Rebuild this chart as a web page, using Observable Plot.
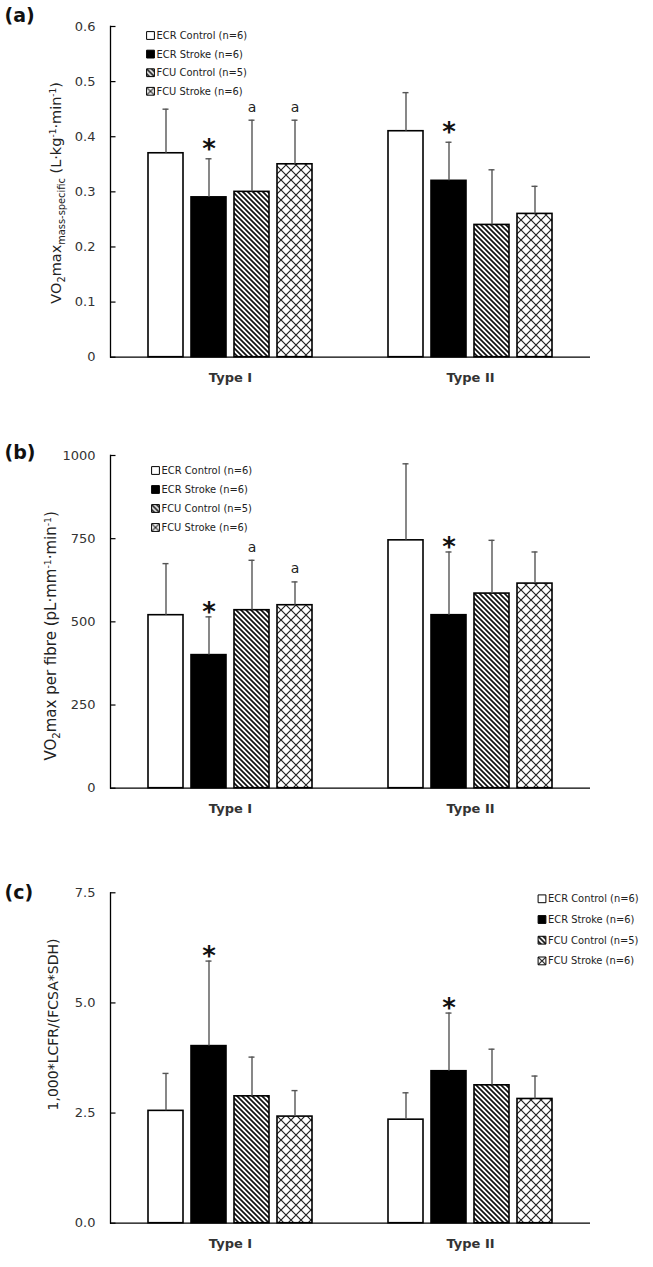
<!DOCTYPE html>
<html>
<head>
<meta charset="utf-8">
<script src="https://cdn.jsdelivr.net/npm/d3@7"></script>
<script src="https://cdn.jsdelivr.net/npm/@observablehq/plot@0.6"></script>
<style>
  body { margin: 0; background: #fff; }
  #charts svg { display: block; }
</style>
</head>
<body>
<svg width="0" height="0" style="position:absolute">
  <defs>
    <pattern id="hatch" width="5" height="5" patternUnits="userSpaceOnUse">
      <rect width="5" height="5" fill="white"/>
      <path d="M-1,-1L6,6M-1,4L1,6M4,-1L6,1" stroke="#111" stroke-width="1.7"/>
    </pattern>
    <pattern id="cross" width="10" height="10" patternUnits="userSpaceOnUse">
      <rect width="10" height="10" fill="white"/>
      <path d="M-1,-1L11,11M11,-1L-1,11" stroke="#222" stroke-width="1.2"/>
    </pattern>
  </defs>
</svg>
<div id="charts"></div>
<script>
// ---------- shared categories ----------
const types = ["Type I", "Type II"];
const groups = ["ECR Control", "ECR Stroke", "FCU Control", "FCU Stroke"];
const legendLabels = ["ECR Control (n=6)", "ECR Stroke (n=6)", "FCU Control (n=5)", "FCU Stroke (n=6)"];
const groupFills = ["white", "black", "url(#hatch)", "url(#cross)"];

// ---------- (a) VO2max mass-specific ----------
const massMeanTypeI = [0.37, 0.29, 0.30, 0.35];
const massMeanTypeII = [0.41, 0.32, 0.24, 0.26];
const massSdTypeI = [0.08, 0.07, 0.13, 0.08];
const massSdTypeII = [0.07, 0.07, 0.10, 0.05];
const massTicks = [0, 0.1, 0.2, 0.3, 0.4, 0.5, 0.6];
const massNotes = [["Type I", "ECR Stroke", "*"], ["Type II", "ECR Stroke", "*"], ["Type I", "FCU Control", "a"], ["Type I", "FCU Stroke", "a"]];

// ---------- (b) VO2max per fibre ----------
const fibreMeanTypeI = [520, 400, 535, 550];
const fibreMeanTypeII = [745, 520, 585, 615];
const fibreSdTypeI = [155, 115, 150, 70];
const fibreSdTypeII = [230, 190, 160, 95];
const fibreTicks = [0, 250, 500, 750, 1000];
const fibreNotes = [["Type I", "ECR Stroke", "*"], ["Type II", "ECR Stroke", "*"], ["Type I", "FCU Control", "a"], ["Type I", "FCU Stroke", "a"]];

// ---------- (c) 1,000*LCFR/(FCSA*SDH) ----------
const ratioMeanTypeI = [2.55, 4.02, 2.88, 2.42];
const ratioMeanTypeII = [2.35, 3.45, 3.13, 2.82];
const ratioSdTypeI = [0.85, 1.93, 0.89, 0.59];
const ratioSdTypeII = [0.61, 1.32, 0.82, 0.52];
const ratioTicks = [0, 2.5, 5, 7.5];
const ratioNotes = [["Type I", "ECR Stroke", "*"], ["Type II", "ECR Stroke", "*"]];

const W = 653, ML = 109, MR = 63;
const facetW = (W - ML - MR) / 2;

function richText(svg, marker, parts, base) {
  svg.querySelectorAll("text").forEach(t => {
    if (t.textContent !== marker) return;
    while (t.firstChild) t.removeChild(t.firstChild);
    let shift = 0;
    for (const [s, kind] of parts) {
      const ts = document.createElementNS("http://www.w3.org/2000/svg", "tspan");
      const target = kind === "sub" ? 4 : kind === "sup" ? -5 : 0;
      const size = kind === "sub" ? base * 0.68 : kind === "sup" ? base * 0.62 : base;
      ts.setAttribute("dy", target - shift);
      shift = target;
      ts.setAttribute("font-size", size);
      ts.textContent = s;
      t.appendChild(ts);
    }
  });
}

function makePanel(cfg) {
  const rows = types.flatMap((t, ti) => groups.map((g, gi) => ({
    type: t, group: g, fill: groupFills[gi],
    mean: cfg.means[ti][gi], sd: cfg.sds[ti][gi]
  })));
  const find = (t, g) => rows.find(r => r.type === t && r.group === g);
  const notes = cfg.notes.map(([t, g, s]) => ({type: t, group: g, text: s, top: find(t, g).mean + find(t, g).sd}));
  const lg = cfg.legend;
  const marker = cfg.labelParts.map(p => p[0]).join("");
  const svg = Plot.plot({
    width: W,
    height: cfg.height,
    marginTop: cfg.marginTop,
    marginBottom: cfg.marginBottom,
    marginLeft: ML,
    marginRight: MR,
    style: {fontFamily: "DejaVu Sans", background: "white", overflow: "visible"},
    fx: {domain: types, padding: 0},
    x: {domain: groups, paddingInner: 0.19, paddingOuter: 0.885, axis: null},
    y: {domain: cfg.domain, axis: null},
    color: {type: "identity"},
    marks: [
      Plot.barY(rows, {fx: "type", x: "group", y: "mean", fill: "fill", stroke: "black", strokeWidth: 1.6}),
      Plot.ruleX(rows, {fx: "type", x: "group", y1: "mean", y2: d => d.mean + d.sd, stroke: "#555", strokeWidth: 1.4}),
      Plot.tickY(rows, {fx: "type", x: "group", y: d => d.mean + d.sd, stroke: "#555", strokeWidth: 1.4, insetLeft: 14.5, insetRight: 14.5}),
      Plot.text(notes.filter(n => n.text === "*"), {fx: "type", x: "group", y: "top", text: "text", fontSize: 26, lineAnchor: "middle", dy: cfg.starDy, fill: "#111", fontWeight: "bold"}),
      Plot.text(notes.filter(n => n.text === "a"), {fx: "type", x: "group", y: "top", text: "text", fontSize: 14, lineAnchor: "middle", dy: cfg.aDy, fill: "#222"}),
      Plot.ruleY([0], {stroke: "black", strokeWidth: 1.3}),
      Plot.frame({anchor: "left", facetAnchor: "left", stroke: "black", strokeWidth: 1.3}),
      Plot.tickY(cfg.ticks, {y: d => d, fx: () => "Type I", insetRight: facetW - 6, stroke: "black", strokeWidth: 1.2}),
      Plot.axisY({ticks: cfg.ticks, tickSize: 0, tickPadding: 15, tickFormat: cfg.format, fontSize: 13, fill: "#333", label: null}),
      Plot.axisFx({anchor: "bottom", tickSize: 0, tickPadding: 16, fontSize: 13, fontWeight: "bold", fill: "#333", label: null}),
      Plot.text([marker], {fx: () => "Type I", frameAnchor: "left", rotate: -90, textAnchor: "middle", lineAnchor: "middle", dx: cfg.labelDx, dy: cfg.labelDy, text: d => d, fontSize: cfg.labelSize, fill: "#222"}),
      Plot.text([cfg.letter], {fx: () => "Type I", frameAnchor: "top-left", dx: -106, dy: cfg.letterDy, text: d => d, textAnchor: "start", lineAnchor: "middle", fontSize: 19, fontWeight: "bold", fill: "#111"}),
      ...legendLabels.flatMap((lab, i) => [
        Plot.dot([lab], {fx: () => lg.facet, frameAnchor: "top-left", dx: lg.dx, dy: lg.dy + i * lg.step, symbol: "square", r: 4.4, fill: groupFills[i], stroke: "black", strokeWidth: 1}),
        Plot.text([lab], {fx: () => lg.facet, frameAnchor: "top-left", dx: lg.dx + 6, dy: lg.dy + i * lg.step, text: d => d, textAnchor: "start", lineAnchor: "middle", fontSize: 11, fontFamily: "DejaVu Sans Condensed", fill: "#222"})
      ])
    ]
  });
  richText(svg, marker, cfg.labelParts, cfg.labelSize);
  return svg;
}

const charts = document.getElementById("charts");

charts.appendChild(makePanel({
  height: 420, marginTop: 26, marginBottom: 63.3,
  means: [massMeanTypeI, massMeanTypeII], sds: [massSdTypeI, massSdTypeII],
  notes: massNotes, domain: [0, 0.6], ticks: massTicks, format: d => d === 0 ? "0" : d.toFixed(1),
  starDy: -9.5, aDy: -13,
  letter: "(a)", letterDy: -11,
  labelParts: [["VO", ""], ["2", "sub"], ["max", ""], ["mass-specific", "sub"], [" (L·kg", ""], ["-1", "sup"], ["·min", ""], ["-1", "sup"], [")", ""]],
  labelSize: 14.5, labelDx: -54, labelDy: 1,
  legend: {facet: "Type I", dx: 40, dy: 9, step: 18.6}
}));

charts.appendChild(makePanel({
  height: 420, marginTop: 35, marginBottom: 52.3,
  means: [fibreMeanTypeI, fibreMeanTypeII], sds: [fibreSdTypeI, fibreSdTypeII],
  notes: fibreNotes, domain: [0, 1000], ticks: fibreTicks, format: d => String(d),
  starDy: -4, aDy: -13,
  letter: "(b)", letterDy: -3,
  labelParts: [["VO", ""], ["2", "sub"], ["max per fibre (pL·mm", ""], ["-1", "sup"], ["·min", ""], ["-1", "sup"], [")", ""]],
  labelSize: 15, labelDx: -59, labelDy: 14,
  legend: {facet: "Type I", dx: 45, dy: 15, step: 19}
}));

charts.appendChild(makePanel({
  height: 427, marginTop: 52.3, marginBottom: 44.3,
  means: [ratioMeanTypeI, ratioMeanTypeII], sds: [ratioSdTypeI, ratioSdTypeII],
  notes: ratioNotes, domain: [0, 7.5], ticks: ratioTicks, format: d => d.toFixed(1),
  starDy: -4.5, aDy: -13,
  letter: "(c)", letterDy: 0,
  labelParts: [["1,000*LCFR/(FCSA*SDH)", ""]],
  labelSize: 14, labelDx: -57, labelDy: -33.5,
  legend: {facet: "Type II", dx: 191.5, dy: 6, step: 20.7}
}));
</script>
</body>
</html>
